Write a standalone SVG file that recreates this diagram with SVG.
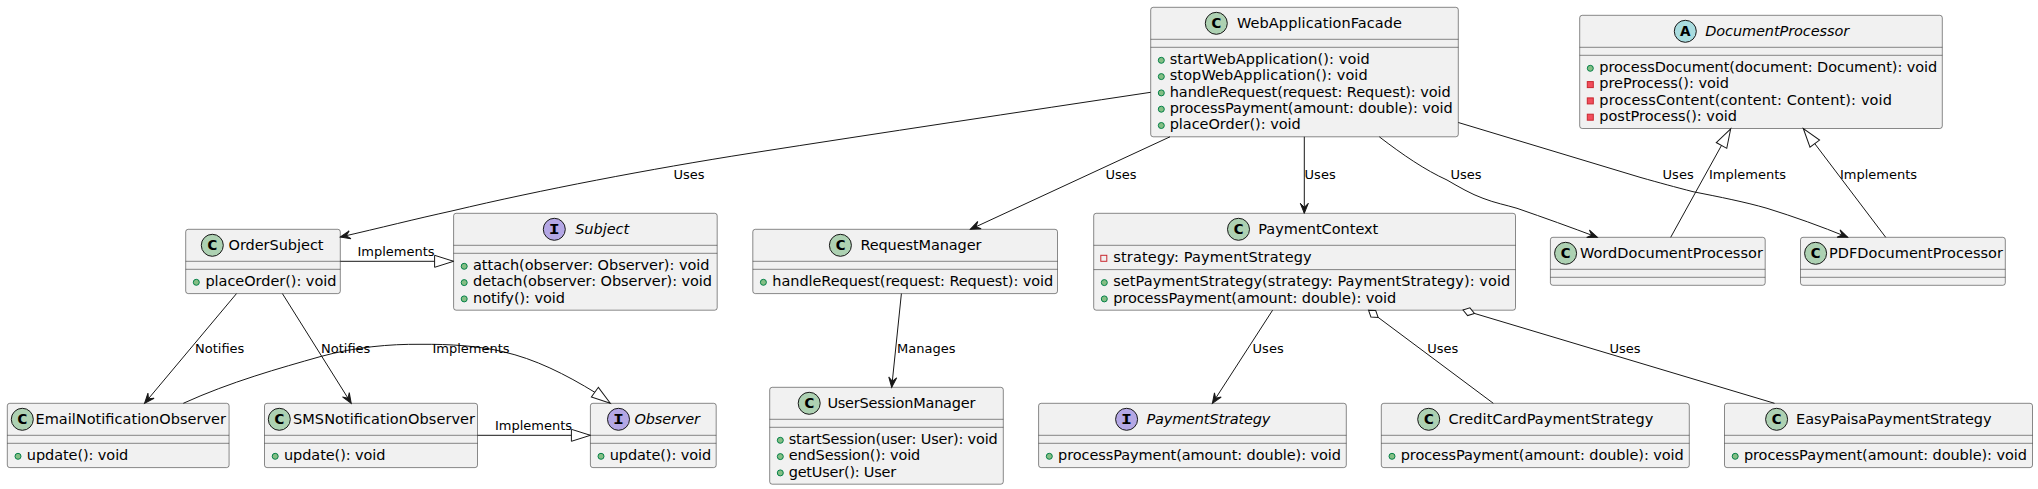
<svg xmlns="http://www.w3.org/2000/svg" width="2038" height="489" viewBox="0 0 2038 489">
<style>
text{font-family:"DejaVu Sans",sans-serif;font-size:14.5px;fill:#000}
.i{font-style:italic}
text.l{font-size:13px}
text.g{font-family:"DejaVu Sans Mono",monospace;font-weight:bold;font-size:14px;text-anchor:middle}
.b{fill:#F1F1F1;stroke:#181818;stroke-width:.5}
.s{stroke:#181818;stroke-width:.5}
.C{fill:#ADD1B2;stroke:#181818}
.I{fill:#B4A7E5;stroke:#181818}
.A{fill:#A9DCDF;stroke:#181818}
.pub{fill:#84BE84;stroke:#038048}
.pri{fill:#F24D5C;stroke:#C82930}
.fld{fill:none;stroke:#C82930}
.c{fill:none;stroke:#181818;stroke-width:1}
.ah{marker-end:url(#open)}
.in{marker-end:url(#tri)}
.ag{marker-end:url(#dia)}
</style>
<defs>
<marker id="open" markerUnits="userSpaceOnUse" markerWidth="10" markerHeight="8" refX="10" refY="4" orient="auto" overflow="visible"><path d="M10,4 L0,0 L4,4 L0,8 Z" fill="#181818" stroke="#181818" stroke-width="1"/></marker>
<marker id="tri" markerUnits="userSpaceOnUse" markerWidth="19" markerHeight="12" refX="19" refY="6" orient="auto" overflow="visible"><path d="M19,6 L0,0 L0,12 Z" fill="#FFFFFF" stroke="#181818" stroke-width="1"/></marker>
<marker id="dia" markerUnits="userSpaceOnUse" markerWidth="12" markerHeight="8" refX="12" refY="4" orient="auto" overflow="visible"><path d="M12,4 L6,0 L0,4 L6,8 Z" fill="#FFFFFF" stroke="#181818" stroke-width="1"/></marker>
</defs>

<g id="WebApplicationFacade">
<rect class="b" x="1150.7" y="7.3" width="307.6" height="129.5" rx="2.5"/>
<circle class="C" cx="1216.3" cy="23.3" r="11"/><text class="g" x="1216.3" y="28.3" textLength="11" lengthAdjust="spacingAndGlyphs">C</text>
<text x="1237" y="28.1" textLength="165">WebApplicationFacade</text>
<line class="s" x1="1150.7" y1="39.3" x2="1458.3" y2="39.3"/><line class="s" x1="1150.7" y1="47.3" x2="1458.3" y2="47.3"/>
<circle class="pub" cx="1161.3" cy="60.3" r="3"/><text x="1169.7" y="63.93" textLength="200">startWebApplication(): void</text>
<circle class="pub" cx="1161.3" cy="76.6" r="3"/><text x="1169.7" y="80.23" textLength="198">stopWebApplication(): void</text>
<circle class="pub" cx="1161.3" cy="92.9" r="3"/><text x="1169.7" y="96.52" textLength="281">handleRequest(request: Request): void</text>
<circle class="pub" cx="1161.3" cy="109.2" r="3"/><text x="1169.7" y="112.82" textLength="283">processPayment(amount: double): void</text>
<circle class="pub" cx="1161.3" cy="125.5" r="3"/><text x="1169.7" y="129.12" textLength="131">placeOrder(): void</text>
</g>

<g id="DocumentProcessor">
<rect class="b" x="1579.7" y="15.3" width="362.6" height="113.2" rx="2.5"/>
<circle class="A" cx="1685.3" cy="31.3" r="11"/><text class="g" x="1685.3" y="36.3" textLength="11" lengthAdjust="spacingAndGlyphs">A</text>
<text class="i" x="1705.2" y="36.1" textLength="144">DocumentProcessor</text>
<line class="s" x1="1579.7" y1="47.3" x2="1942.3" y2="47.3"/><line class="s" x1="1579.7" y1="55.3" x2="1942.3" y2="55.3"/>
<circle class="pub" cx="1590.3" cy="68.3" r="3"/><text x="1599.3" y="71.93" textLength="338">processDocument(document: Document): void</text>
<rect class="pri" x="1587.3" y="81.6" width="6" height="6"/><text x="1599.3" y="88.23" textLength="129.7">preProcess(): void</text>
<rect class="pri" x="1587.3" y="97.9" width="6" height="6"/><text x="1599.3" y="104.52" textLength="292.7">processContent(content: Content): void</text>
<rect class="pri" x="1587.3" y="114.2" width="6" height="6"/><text x="1599.3" y="120.82" textLength="137.7">postProcess(): void</text>
</g>

<g id="OrderSubject">
<rect class="b" x="185.7" y="229.3" width="154.6" height="64.3" rx="2.5"/>
<circle class="C" cx="212.3" cy="245.3" r="11"/><text class="g" x="212.3" y="250.3" textLength="11" lengthAdjust="spacingAndGlyphs">C</text>
<text x="228.5" y="250.1" textLength="95">OrderSubject</text>
<line class="s" x1="185.7" y1="261.3" x2="340.3" y2="261.3"/><line class="s" x1="185.7" y1="269.3" x2="340.3" y2="269.3"/>
<circle class="pub" cx="196.3" cy="282.3" r="3"/><text x="205.4" y="285.93" textLength="131">placeOrder(): void</text>
</g>

<g id="Subject">
<rect class="b" x="453.6" y="213.3" width="263.6" height="96.9" rx="2.5"/>
<circle class="I" cx="554.3" cy="229.3" r="11"/><text class="g" x="554.3" y="234.3" textLength="11" lengthAdjust="spacingAndGlyphs">I</text>
<text class="i" x="575.2" y="234.1" textLength="54">Subject</text>
<line class="s" x1="453.6" y1="245.3" x2="717.2" y2="245.3"/><line class="s" x1="453.6" y1="253.3" x2="717.2" y2="253.3"/>
<circle class="pub" cx="464.2" cy="266.3" r="3"/><text x="473" y="269.93" textLength="236.5">attach(observer: Observer): void</text>
<circle class="pub" cx="464.2" cy="282.6" r="3"/><text x="473" y="286.23" textLength="239">detach(observer: Observer): void</text>
<circle class="pub" cx="464.2" cy="298.9" r="3"/><text x="473" y="302.52" textLength="92">notify(): void</text>
</g>

<g id="RequestManager">
<rect class="b" x="752.8" y="229.3" width="304.7" height="64.3" rx="2.5"/>
<circle class="C" cx="840.4" cy="245.3" r="11"/><text class="g" x="840.4" y="250.3" textLength="11" lengthAdjust="spacingAndGlyphs">C</text>
<text x="860.4" y="250.1" textLength="121">RequestManager</text>
<line class="s" x1="752.8" y1="261.3" x2="1057.5" y2="261.3"/><line class="s" x1="752.8" y1="269.3" x2="1057.5" y2="269.3"/>
<circle class="pub" cx="763.4" cy="282.3" r="3"/><text x="772.3" y="285.93" textLength="281">handleRequest(request: Request): void</text>
</g>

<g id="PaymentContext">
<rect class="b" x="1093.7" y="213.3" width="421.8" height="96.9" rx="2.5"/>
<circle class="C" cx="1238.5" cy="229.3" r="11"/><text class="g" x="1238.5" y="234.3" textLength="11" lengthAdjust="spacingAndGlyphs">C</text>
<text x="1258.3" y="234.1" textLength="120">PaymentContext</text>
<line class="s" x1="1093.7" y1="245.3" x2="1515.5" y2="245.3"/><line class="s" x1="1093.7" y1="269.6" x2="1515.5" y2="269.6"/>
<rect class="fld" x="1100.8" y="255.3" width="6" height="6"/><text x="1113.2" y="261.93" textLength="198.5">strategy: PaymentStrategy</text>
<circle class="pub" cx="1104.3" cy="282.6" r="3"/><text x="1113.2" y="286.23" textLength="397">setPaymentStrategy(strategy: PaymentStrategy): void</text>
<circle class="pub" cx="1104.3" cy="298.9" r="3"/><text x="1113.2" y="302.53" textLength="283">processPayment(amount: double): void</text>
</g>

<g id="WordDocumentProcessor">
<rect class="b" x="1550.4" y="237.3" width="214.8" height="48" rx="2.5"/>
<circle class="C" cx="1565.6" cy="253.3" r="11"/><text class="g" x="1565.6" y="258.3" textLength="11" lengthAdjust="spacingAndGlyphs">C</text>
<text x="1579.9" y="258.1" textLength="183">WordDocumentProcessor</text>
<line class="s" x1="1550.4" y1="269.3" x2="1765.2" y2="269.3"/><line class="s" x1="1550.4" y1="277.3" x2="1765.2" y2="277.3"/>
</g>

<g id="PDFDocumentProcessor">
<rect class="b" x="1800.5" y="237.3" width="204.8" height="48" rx="2.5"/>
<circle class="C" cx="1815.6" cy="253.3" r="11"/><text class="g" x="1815.6" y="258.3" textLength="11" lengthAdjust="spacingAndGlyphs">C</text>
<text x="1829" y="258.1" textLength="174">PDFDocumentProcessor</text>
<line class="s" x1="1800.5" y1="269.3" x2="2005.3" y2="269.3"/><line class="s" x1="1800.5" y1="277.3" x2="2005.3" y2="277.3"/>
</g>

<g id="EmailNotificationObserver">
<rect class="b" x="7.3" y="403.3" width="221.8" height="64.3" rx="2.5"/>
<circle class="C" cx="22.3" cy="419.3" r="11"/><text class="g" x="22.3" y="424.3" textLength="11" lengthAdjust="spacingAndGlyphs">C</text>
<text x="35.5" y="424.1" textLength="190.5">EmailNotificationObserver</text>
<line class="s" x1="7.3" y1="435.3" x2="229.1" y2="435.3"/><line class="s" x1="7.3" y1="443.3" x2="229.1" y2="443.3"/>
<circle class="pub" cx="18" cy="456.3" r="3"/><text x="26.8" y="459.93" textLength="101.5">update(): void</text>
</g>

<g id="SMSNotificationObserver">
<rect class="b" x="264.5" y="403.3" width="213" height="64.3" rx="2.5"/>
<circle class="C" cx="279.3" cy="419.3" r="11"/><text class="g" x="279.3" y="424.3" textLength="11" lengthAdjust="spacingAndGlyphs">C</text>
<text x="293" y="424.1" textLength="182">SMSNotificationObserver</text>
<line class="s" x1="264.5" y1="435.3" x2="477.5" y2="435.3"/><line class="s" x1="264.5" y1="443.3" x2="477.5" y2="443.3"/>
<circle class="pub" cx="275.2" cy="456.3" r="3"/><text x="284" y="459.93" textLength="101.5">update(): void</text>
</g>

<g id="Observer">
<rect class="b" x="590.4" y="403.3" width="125.8" height="64.3" rx="2.5"/>
<circle class="I" cx="618.5" cy="419.3" r="11"/><text class="g" x="618.5" y="424.3" textLength="11" lengthAdjust="spacingAndGlyphs">I</text>
<text class="i" x="634.5" y="424.1" textLength="65.5">Observer</text>
<line class="s" x1="590.4" y1="435.3" x2="716.2" y2="435.3"/><line class="s" x1="590.4" y1="443.3" x2="716.2" y2="443.3"/>
<circle class="pub" cx="601" cy="456.3" r="3"/><text x="609.7" y="459.93" textLength="101.5">update(): void</text>
</g>

<g id="UserSessionManager">
<rect class="b" x="769.7" y="387.3" width="233.6" height="96.9" rx="2.5"/>
<circle class="C" cx="809.2" cy="403.3" r="11"/><text class="g" x="809.2" y="408.3" textLength="11" lengthAdjust="spacingAndGlyphs">C</text>
<text x="827.4" y="408.1" textLength="148">UserSessionManager</text>
<line class="s" x1="769.7" y1="419.3" x2="1003.3" y2="419.3"/><line class="s" x1="769.7" y1="427.3" x2="1003.3" y2="427.3"/>
<circle class="pub" cx="780.3" cy="440.3" r="3"/><text x="788.7" y="443.93" textLength="209">startSession(user: User): void</text>
<circle class="pub" cx="780.3" cy="456.6" r="3"/><text x="788.7" y="460.23" textLength="131.6">endSession(): void</text>
<circle class="pub" cx="780.3" cy="472.9" r="3"/><text x="788.7" y="476.52" textLength="107.5">getUser(): User</text>
</g>

<g id="PaymentStrategy">
<rect class="b" x="1038.6" y="403.3" width="307.7" height="64.3" rx="2.5"/>
<circle class="I" cx="1126.6" cy="419.3" r="11"/><text class="g" x="1126.6" y="424.3" textLength="11" lengthAdjust="spacingAndGlyphs">I</text>
<text class="i" x="1146.4" y="424.1" textLength="124">PaymentStrategy</text>
<line class="s" x1="1038.6" y1="435.3" x2="1346.3" y2="435.3"/><line class="s" x1="1038.6" y1="443.3" x2="1346.3" y2="443.3"/>
<circle class="pub" cx="1049.3" cy="456.3" r="3"/><text x="1058" y="459.93" textLength="283">processPayment(amount: double): void</text>
</g>

<g id="CreditCardPaymentStrategy">
<rect class="b" x="1381.3" y="403.3" width="308" height="64.3" rx="2.5"/>
<circle class="C" cx="1428.7" cy="419.3" r="11"/><text class="g" x="1428.7" y="424.3" textLength="11" lengthAdjust="spacingAndGlyphs">C</text>
<text x="1448.4" y="424.1" textLength="205">CreditCardPaymentStrategy</text>
<line class="s" x1="1381.3" y1="435.3" x2="1689.3" y2="435.3"/><line class="s" x1="1381.3" y1="443.3" x2="1689.3" y2="443.3"/>
<circle class="pub" cx="1392" cy="456.3" r="3"/><text x="1400.7" y="459.93" textLength="283">processPayment(amount: double): void</text>
</g>

<g id="EasyPaisaPaymentStrategy">
<rect class="b" x="1724.5" y="403.3" width="308" height="64.3" rx="2.5"/>
<circle class="C" cx="1776.6" cy="419.3" r="11"/><text class="g" x="1776.6" y="424.3" textLength="11" lengthAdjust="spacingAndGlyphs">C</text>
<text x="1796.1" y="424.1" textLength="195.5">EasyPaisaPaymentStrategy</text>
<line class="s" x1="1724.5" y1="435.3" x2="2032.5" y2="435.3"/><line class="s" x1="1724.5" y1="443.3" x2="2032.5" y2="443.3"/>
<circle class="pub" cx="1735.2" cy="456.3" r="3"/><text x="1743.9" y="459.93" textLength="283">processPayment(amount: double): void</text>
</g>

<g id="connectors">
<path class="c ah" d="M1150.7,92.3 C1020,112 880,133 750,153.3 C650,169 540,190 453,210.7 C415,219 380,228 340.3,237"/>
<path class="c ah" d="M1170,136.8 L970.4,229.3"/>
<path class="c ah" d="M1304.3,136.8 L1304.3,213.3"/>
<path class="c ah" d="M1379.3,136.8 C1403,155 1425,170 1447,180 C1459,187 1471,194 1483,198.3 C1495,203 1506,205 1517,208.3 C1545,218 1570,227 1597.4,237.3"/>
<path class="c ah" d="M1458.3,122.5 L1640,177.3 C1660,183 1675,187 1693,191.7 C1720,197 1745,202 1767,208.3 C1795,217 1820,226 1847.8,237.3"/>
<path class="c in" d="M1670.7,237.3 L1730.7,128.8"/>
<path class="c in" d="M1885.7,237.3 L1803.3,128.5"/>
<path class="c in" d="M340.3,261.3 L453.6,261.3"/>
<path class="c ah" d="M236.5,293.6 L144.6,403.3"/>
<path class="c ah" d="M282.4,293.6 L351.2,403.3"/>
<path class="c in" d="M183.3,403.3 C230,382 280,368 320,356.7 C355,347 390,344 420,344.3 C450,344 480,346 503,351.7 C535,359 565,374 596,393 L610.3,403.3"/>
<path class="c in" d="M477.5,435.3 L590.4,435.3"/>
<path class="c ah" d="M901.4,293.6 L891.7,387.3"/>
<path class="c ah" d="M1272.6,310.2 L1212.4,403.3"/>
<path class="c ag" d="M1493.3,403.3 L1368.5,310.2"/>
<path class="c ag" d="M1774.5,403.3 L1463,310"/>
<text class="l" x="673.5" y="179">Uses</text>
<text class="l" x="1105.5" y="179">Uses</text>
<text class="l" x="1304.6" y="179">Uses</text>
<text class="l" x="1450.5" y="179">Uses</text>
<text class="l" x="1662.6" y="179">Uses</text>
<text class="l" x="1709" y="179">Implements</text>
<text class="l" x="1840" y="179">Implements</text>
<text class="l" x="357.5" y="256">Implements</text>
<text class="l" x="195" y="352.5">Notifies</text>
<text class="l" x="321" y="352.5">Notifies</text>
<text class="l" x="432.5" y="352.5">Implements</text>
<text class="l" x="495" y="429.5">Implements</text>
<text class="l" x="897" y="352.5">Manages</text>
<text class="l" x="1252.6" y="352.5">Uses</text>
<text class="l" x="1427.3" y="352.5">Uses</text>
<text class="l" x="1609.5" y="352.5">Uses</text>
</g>
</svg>
